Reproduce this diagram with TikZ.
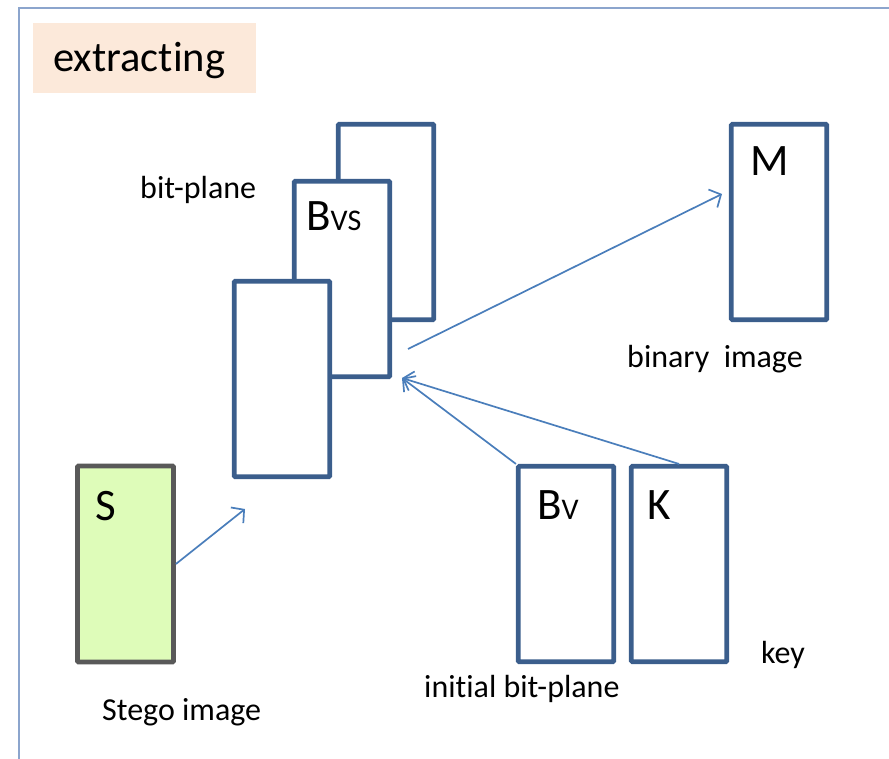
\documentclass[tikz,border=0pt]{standalone}
\usepackage{fontspec}
\setmainfont[Ligatures={NoCommon}]{Carlito}
\usetikzlibrary{arrows.meta}
\definecolor{boxblue}{RGB}{59,94,140}
\definecolor{arrowblue}{RGB}{74,126,187}
\definecolor{framecol}{RGB}{140,165,205}
\definecolor{peach}{RGB}{252,233,218}
\definecolor{lgreen}{RGB}{222,252,185}
\definecolor{sgray}{RGB}{89,89,89}
\newcommand{\fs}[1]{\fontsize{#1}{#1}\selectfont}
\tikzset{
  plane/.style={draw=boxblue, line width=4.6pt, fill=white, minimum width=95.5pt, minimum height=195.5pt, inner sep=0pt, rounded corners=1pt},
  stegobox/.style={draw=sgray, line width=4.8pt, fill=lgreen, minimum width=96pt, minimum height=196pt, inner sep=0pt, rounded corners=1pt},
  lbl/.style={anchor=base west, inner sep=0pt, font=\fs{32}},
  big/.style={anchor=base west, inner sep=0pt, font=\fs{45}},
  flow/.style={draw=arrowblue, line width=1.7pt, -{Straight Barb[length=9pt,width=20pt,line width=1.7pt]}}
}
\begin{document}
\begin{tikzpicture}[x=1pt,y=-1pt]
\useasboundingbox (0,0) rectangle (889,759);
% frame
\draw[framecol, line width=1.2pt] (19,759) -- (19,8) -- (889,8);
% title
\node[fill=peach, minimum width=223pt, minimum height=70pt, inner sep=0pt] (title) at (144.5,58) {};
\node[anchor=base west, inner sep=0pt, font=\fs{42.5}] (titletext) at (53,72) {extracting};
% bit planes
\node[plane] (back) at (386,222) {};
\node[plane] (bvs) at (342,279) {};
\node[plane] (front) at (282,379) {};
\node[big] (bvslbl) at (306,231) {B\fs{30}VS};
\node[lbl] (bitplane) at (140,199) {bit-plane};
% binary image
\node[plane] (M) at (779,222) {};
\node[big] (Mlbl) at (750,176) {M};
\node[lbl] (binary) at (627,367) {binary\ \ image};
% stego
\node[stegobox] (S) at (125.5,564) {};
\node[big] (Slbl) at (95,520) {S};
\node[lbl] (stego) at (102,720) {Stego image};
% initial bit-plane and key
\node[plane] (Bv) at (566,564) {};
\node[big] (Bvlbl) at (537,519) {B\fs{30}V};
\node[plane] (K) at (679,564) {};
\node[big] (Klbl) at (647,519) {K};
\node[lbl] (initial) at (424,697) {initial bit-plane};
\node[lbl] (key) at (761,663) {key};
% arrows
\coordinate (sEnd) at (245,509);
\coordinate (bStart) at (408,349);
\coordinate (mEnd) at (722,194);
\coordinate (conv) at (402,378);
\draw[flow] (S.east) -- (sEnd);
\draw[flow] (bStart) -- (mEnd);
\draw[flow] (Bv.north west) -- (conv);
\draw[flow] (K.north) -- (conv);
\end{tikzpicture}
\end{document}
